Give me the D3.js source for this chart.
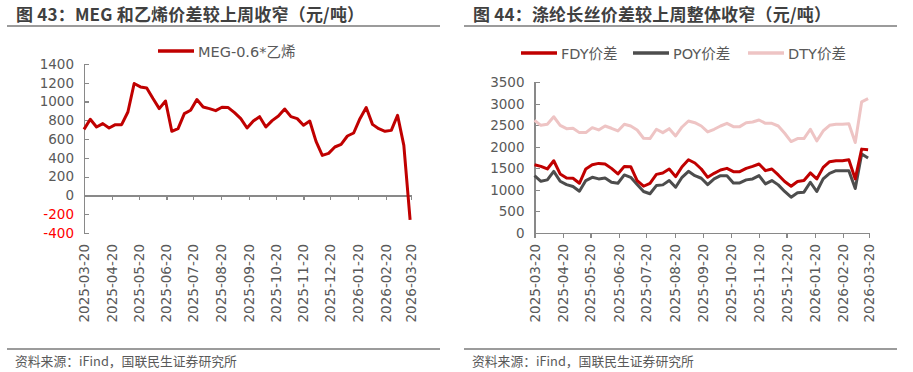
<!DOCTYPE html>
<html>
<head>
<meta charset="utf-8">
<style>
html, body { margin: 0; padding: 0; background: #fff; }
svg { display: block; font-family: "DejaVu Sans", "Noto Sans CJK SC", sans-serif; }
.title { font-family: "Noto Sans CJK SC", sans-serif; font-weight: bold; font-size: 17px; fill: #404040; letter-spacing: 0.2px; }
.src { font-family: "Noto Sans CJK SC", sans-serif; font-size: 12.8px; fill: #595959; }
.legend { font-size: 14.5px; fill: #595959; }
.axis text { font-size: 13.5px; fill: #595959; font-family: "DejaVu Sans", sans-serif; }
.axis path, .axis line { stroke: #898989; stroke-width: 1.2; shape-rendering: crispEdges; }
.rule { stroke: #7a7a7a; stroke-width: 1.6; }
.series { fill: none; stroke-width: 3; stroke-linejoin: round; }
</style>
</head>
<body>
<script src="https://cdn.jsdelivr.net/npm/d3@7/dist/d3.min.js"></script>
<script>
// weekly points, first week 2025-03-20
var startDate = '2025-03-20'
var nWeeks = 53
var monthTicks = ['2025-03-20', '2025-04-20', '2025-05-20', '2025-06-20', '2025-07-20', '2025-08-20',
    '2025-09-20', '2025-10-20', '2025-11-20', '2025-12-20', '2026-01-20', '2026-02-20', '2026-03-20']

// 图43 MEG-0.6*乙烯
var megSpread = [704, 811, 729, 765, 718, 754, 754, 889, 1192, 1156, 1145, 1032, 925, 1006, 683, 711,
    871, 907, 1021, 942, 925, 903, 939, 936, 882, 818, 718, 793, 839, 729, 797, 846, 921, 839, 818,
    747, 793, 576, 427, 448, 516, 544, 633, 665, 818, 936, 757, 711, 683, 693, 854, 533, -260]
var megTicks = [-400, -200, 0, 200, 400, 600, 800, 1000, 1200, 1400]

// 图44 涤纶长丝价差
var fdy = [1582, 1543, 1483, 1675, 1368, 1275, 1267, 1150, 1483, 1582, 1613, 1598, 1497, 1368, 1543,
    1536, 1213, 1081, 1150, 1358, 1391, 1483, 1305, 1536, 1698, 1622, 1483, 1289, 1382, 1460, 1497,
    1421, 1421, 1497, 1543, 1598, 1444, 1483, 1344, 1190, 1081, 1190, 1213, 1391, 1252, 1520, 1652,
    1675, 1675, 1698, 1252, 1945, 1929]
var poy = [1328, 1197, 1229, 1428, 1197, 1120, 1074, 966, 1213, 1289, 1252, 1275, 1174, 1150, 1344,
    1289, 1120, 959, 906, 1097, 1113, 1213, 1058, 1289, 1428, 1328, 1267, 1120, 1252, 1328, 1328,
    1159, 1159, 1229, 1252, 1328, 1136, 1213, 1113, 959, 827, 929, 943, 1174, 959, 1252, 1382, 1444,
    1444, 1444, 1028, 1830, 1737]
var dty = [2615, 2499, 2522, 2698, 2499, 2421, 2430, 2329, 2329, 2444, 2391, 2483, 2430, 2368, 2522,
    2483, 2391, 2199, 2190, 2407, 2329, 2421, 2252, 2460, 2599, 2560, 2483, 2345, 2407, 2483, 2545,
    2468, 2468, 2560, 2576, 2622, 2545, 2545, 2483, 2314, 2121, 2190, 2190, 2407, 2137, 2368, 2499,
    2522, 2522, 2537, 2098, 3045, 3120]
var filTicks = [0, 500, 1000, 1500, 2000, 2500, 3000, 3500]

var parse = d3.timeParse('%Y-%m-%d')
var d0 = parse(startDate)
var dates = d3.range(nWeeks).map(function (i) { return d3.timeDay.offset(d0, 7 * i) })
var tickDates = monthTicks.map(parse)
var fmt = d3.timeFormat('%Y-%m-%d')

var svg = d3.select('body').append('svg')
    .attr('width', 913)
    .attr('height', 372)

// titles, rules, sources
function frame(x0, x1, tx, title) {
    svg.append('text').attr('class', 'title').attr('x', tx).attr('y', 20.5).text(title)
    svg.append('line').attr('class', 'rule').attr('x1', x0).attr('x2', x1).attr('y1', 26).attr('y2', 26)
    svg.append('line').attr('class', 'rule').attr('x1', x0).attr('x2', x1).attr('y1', 349).attr('y2', 349)
    svg.append('text').attr('class', 'src').attr('x', tx - 1).attr('y', 366).text('资料来源：iFind，国联民生证券研究所')
}
frame(7, 440, 16, '图 43：MEG 和乙烯价差较上周收窄（元/吨）')
frame(464, 897, 473, '图 44：涤纶长丝价差较上周整体收窄（元/吨）')

function dateLabels(g, x, y) {
    g.selectAll('.xl').data(tickDates).enter().append('text')
        .attr('class', 'xl')
        .attr('transform', function (d) { return 'translate(' + (x(d) + 5) + ',' + y + ') rotate(-90)' })
        .attr('text-anchor', 'end')
        .text(fmt)
}

function legend(items, y) {
    items.forEach(function (it) {
        svg.append('line').attr('x1', it.x).attr('x2', it.x + 36).attr('y1', y).attr('y2', y)
            .attr('stroke', it.color).attr('stroke-width', 3.5)
        svg.append('text').attr('class', 'legend').attr('x', it.x + 40).attr('y', y + 5.5).text(it.name)
    })
}

// plain hyphen for negatives, like the source
var plain = function (d) { return String(d) }

// ---- chart 43
var x1 = d3.scaleTime().domain([tickDates[0], tickDates[12]]).range([84, 411])
var y1 = d3.scaleLinear().domain([-400, 1400]).range([233, 64])

var gL = svg.append('g')
gL.append('g').attr('class', 'axis')
    .attr('transform', 'translate(84,0)')
    .call(d3.axisLeft(y1).tickValues(megTicks).tickSize(-5).tickPadding(10).tickFormat(plain))
    .selectAll('text').style('fill', function (d) { return d < 0 ? '#ff0000' : '#595959' })
gL.append('g').attr('class', 'axis')
    .attr('transform', 'translate(0,' + y1(0) + ')')
    .call(d3.axisBottom(x1).tickValues(tickDates).tickSizeInner(5).tickSizeOuter(0).tickFormat(''))
gL.append('g').attr('class', 'axis').call(dateLabels, x1, 244)

gL.append('path').datum(megSpread)
    .attr('class', 'series')
    .attr('stroke', '#c00000')
    .attr('d', d3.line().x(function (d, i) { return x1(dates[i]) }).y(function (d) { return y1(d) }))

legend([{ x: 158, name: 'MEG-0.6*乙烯', color: '#c00000' }], 51)

// ---- chart 44
var x2 = d3.scaleTime().domain([tickDates[0], tickDates[12]]).range([534.5, 869])
var y2 = d3.scaleLinear().domain([0, 3500]).range([232.7, 82.3])

var gR = svg.append('g')
gR.append('g').attr('class', 'axis')
    .attr('transform', 'translate(534.5,0)')
    .call(d3.axisLeft(y2).tickValues(filTicks).tickSize(-5).tickPadding(10).tickFormat(plain))
gR.append('g').attr('class', 'axis')
    .attr('transform', 'translate(0,' + y2(0) + ')')
    .call(d3.axisBottom(x2).tickValues(tickDates).tickSizeInner(5).tickSizeOuter(0).tickFormat(''))
gR.append('g').attr('class', 'axis').call(dateLabels, x2, 244)

var series44 = [
    { name: 'DTY价差', values: dty, color: '#eec4c4' },
    { name: 'POY价差', values: poy, color: '#4d4d4d' },
    { name: 'FDY价差', values: fdy, color: '#c00000' }
]
var line2 = d3.line().x(function (d, i) { return x2(dates[i]) }).y(function (d) { return y2(d) })
gR.selectAll('.series').data(series44).enter().append('path')
    .attr('class', 'series')
    .attr('stroke', function (d) { return d.color })
    .attr('d', function (d) { return line2(d.values) })

legend([
    { x: 521, name: 'FDY价差', color: '#c00000' },
    { x: 633, name: 'POY价差', color: '#4d4d4d' },
    { x: 748, name: 'DTY价差', color: '#eec4c4' }
], 53)
</script>
</body>
</html>
